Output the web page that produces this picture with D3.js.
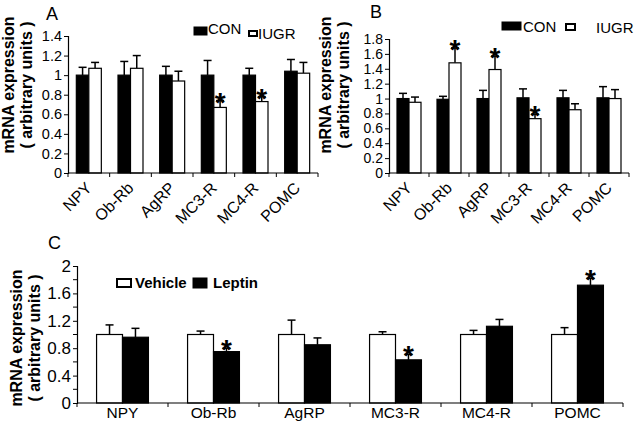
<!DOCTYPE html>
<html>
<head>
<meta charset="utf-8">
<script src="https://cdn.jsdelivr.net/npm/d3@7"></script>
<style>
  body { margin: 0; background: #fff; }
  svg { font-family: Arial, "Liberation Sans", sans-serif; }
</style>
</head>
<body>
<div id="chart"></div>
<script>
const genes = ["NPY", "Ob-Rb", "AgRP", "MC3-R", "MC4-R", "POMC"];

// panel A: CON vs IUGR
const aCon = [1.0, 1.0, 1.0, 1.0, 1.0, 1.04];
const aConErr = [0.08, 0.14, 0.09, 0.15, 0.07, 0.12];
const aIugr = [1.07, 1.07, 0.94, 0.67, 0.73, 1.02];
const aIugrErr = [0.06, 0.13, 0.10, 0.07, 0.05, 0.11];
const aStar = [false, false, false, true, true, false];

// panel B
const bCon = [1.0, 0.99, 1.0, 1.01, 1.01, 1.01];
const bConErr = [0.07, 0.04, 0.11, 0.12, 0.10, 0.15];
const bIugr = [0.95, 1.48, 1.39, 0.73, 0.85, 1.0];
const bIugrErr = [0.07, 0.20, 0.18, 0.06, 0.08, 0.12];
const bStar = [false, true, true, true, false, false];

// panel C: vehicle vs leptin
const cVeh = [1.0, 1.0, 1.0, 1.0, 1.0, 1.0];
const cVehErr = [0.14, 0.05, 0.21, 0.04, 0.06, 0.10];
const cLep = [0.96, 0.75, 0.85, 0.63, 1.12, 1.72];
const cLepErr = [0.13, 0.05, 0.10, 0.08, 0.10, 0.10];
const cStar = [false, true, false, true, false, true];

const aTicks = [0, 0.2, 0.4, 0.6, 0.8, 1, 1.2, 1.4];
const bTicks = [0, 0.2, 0.4, 0.6, 0.8, 1, 1.2, 1.4, 1.6, 1.8];
const cTicks = [0, 0.4, 0.8, 1.2, 1.6, 2];
const cMinor = [0.2, 0.6, 1.0, 1.4, 1.8];

const svg = d3.select("#chart").append("svg")
    .attr("width", 638)
    .attr("height", 430);

function panel(p) {
    const g = svg.append("g");
    const x = d3.scaleBand().domain(genes).range([p.x0, p.x1]);
    const sub = d3.scaleBand().domain([0, 1])
        .range([x.bandwidth() * p.inner[0], x.bandwidth() * p.inner[1]]);
    const y = d3.scaleLinear().domain([0, p.ymax]).range([p.y0, p.y1]);

    const series = [
        {vals: p.s1, err: p.e1, fill: p.fill[0], star: null},
        {vals: p.s2, err: p.e2, fill: p.fill[1], star: p.star}
    ];

    series.forEach((s, si) => {
        const rows = genes.map((k, i) => ({k, v: s.vals[i], e: s.err[i], st: s.star && s.star[i]}));
        // upper whisker only
        rows.forEach(d => {
            const cx = x(d.k) + sub(si) + sub.bandwidth() / 2;
            const top = y(d.v + d.e);
            g.append("line").attr("x1", cx).attr("x2", cx)
                .attr("y1", y(d.v)).attr("y2", top)
                .attr("stroke", "#000").attr("stroke-width", 1.5);
            g.append("line").attr("x1", cx - 4).attr("x2", cx + 4)
                .attr("y1", top).attr("y2", top)
                .attr("stroke", "#000").attr("stroke-width", 1.5);
            if (d.st) {
                g.append("text").attr("x", cx).attr("y", top + 11)
                    .attr("text-anchor", "middle")
                    .attr("font-size", 28).attr("font-weight", "bold")
                    .text("*");
            }
        });
        g.selectAll(null).data(rows).enter().append("rect")
            .attr("x", d => x(d.k) + sub(si))
            .attr("y", d => y(d.v))
            .attr("width", sub.bandwidth())
            .attr("height", d => p.y0 - y(d.v))
            .attr("fill", s.fill)
            .attr("stroke", "#000")
            .attr("stroke-width", 1.2);
    });

    // y axis
    const ya = g.append("g").attr("transform", `translate(${p.x0},0)`)
        .call(d3.axisLeft(y).tickValues(p.ticks).tickSize(4).tickPadding(2)
            .tickFormat(d => d3.format("~g")(d)));
    ya.select(".domain").attr("stroke-width", 1.2);
    ya.selectAll("text").attr("font-size", p.tickFont).attr("fill", "#000")
        .attr("font-family", "Arial, 'Liberation Sans', sans-serif");
    if (p.minor) {
        g.selectAll(null).data(p.minor).enter().append("line")
            .attr("x1", p.x0 - 4).attr("x2", p.x0)
            .attr("y1", d => y(d)).attr("y2", d => y(d))
            .attr("stroke", "#000");
    }

    // x axis, ticks at band edges
    g.append("line").attr("x1", p.x0).attr("x2", p.x1)
        .attr("y1", p.y0).attr("y2", p.y0)
        .attr("stroke", "#000").attr("stroke-width", 1.2);
    const edges = genes.map(k => x(k)).concat([p.x1]);
    g.selectAll(null).data(edges).enter().append("line")
        .attr("x1", d => d).attr("x2", d => d)
        .attr("y1", p.y0).attr("y2", p.y0 + 4)
        .attr("stroke", "#000");

    if (p.rotate) {
        g.selectAll(null).data(genes).enter().append("text")
            .attr("transform", d => `translate(${x(d) + x.bandwidth() / 2 + 1},${p.y0 + 13}) rotate(-45)`)
            .attr("text-anchor", "end")
            .attr("dominant-baseline", "middle")
            .attr("font-size", 16)
            .text(d => d);
    } else {
        g.selectAll(null).data(genes).enter().append("text")
            .attr("x", d => x(d) + x.bandwidth() / 2)
            .attr("y", p.y0 + 15)
            .attr("text-anchor", "middle")
            .attr("font-size", 15.5)
            .text(d => d);
    }

    // y title, two lines
    g.append("text")
        .attr("transform", `translate(${p.titleX},${p.titleY}) rotate(-90)`)
        .attr("text-anchor", "middle").attr("font-weight", "bold").attr("font-size", 16)
        .text("mRNA expression");
    g.append("text")
        .attr("transform", `translate(${p.titleX + 18},${p.titleY}) rotate(-90)`)
        .attr("text-anchor", "middle").attr("font-weight", "bold").attr("font-size", 16)
        .text("( arbitrary units )");

    g.append("text").attr("x", p.letter[0]).attr("y", p.letter[1])
        .attr("font-size", 18).text(p.letter[2]);
    return g;
}

const gA = panel({x0: 68, x1: 318, y0: 173, y1: 36, ymax: 1.4, ticks: aTicks, tickFont: 14.5,
    s1: aCon, e1: aConErr, s2: aIugr, e2: aIugrErr, star: aStar, fill: ["#000", "#fff"],
    inner: [0.2, 0.8], rotate: true, titleX: 14, titleY: 85, letter: [46, 20, "A"]});

const gB = panel({x0: 389, x1: 629, y0: 173, y1: 39, ymax: 1.8, ticks: bTicks, tickFont: 14,
    s1: bCon, e1: bConErr, s2: bIugr, e2: bIugrErr, star: bStar, fill: ["#000", "#fff"],
    inner: [0.2, 0.8], rotate: true, titleX: 331, titleY: 85, letter: [370, 18, "B"]});

const gC = panel({x0: 77, x1: 623, y0: 403, y1: 266, ymax: 2, ticks: cTicks, tickFont: 17,
    minor: cMinor,
    s1: cVeh, e1: cVehErr, s2: cLep, e2: cLepErr, star: cStar, fill: ["#fff", "#000"],
    inner: [0.215, 0.785], rotate: false, titleX: 22, titleY: 338, letter: [48, 249, "C"]});

// legends
function legendBox(g, x, y, w, h, fill, sw) {
    g.append("rect").attr("x", x).attr("y", y).attr("width", w).attr("height", h)
        .attr("fill", fill).attr("stroke", "#000").attr("stroke-width", sw);
}
legendBox(gA, 194, 27, 13, 8, "#000", 1);
gA.append("text").attr("x", 208).attr("y", 34).attr("font-size", 15).text("CON");
legendBox(gA, 249, 31, 8, 5, "#fff", 2);
gA.append("text").attr("x", 258).attr("y", 39).attr("font-size", 15).text("IUGR");

legendBox(gB, 502, 22, 19, 8, "#000", 1);
gB.append("text").attr("x", 523).attr("y", 32).attr("font-size", 15).text("CON");
legendBox(gB, 566, 24, 9, 6, "#fff", 2);
gB.append("text").attr("x", 596).attr("y", 33).attr("font-size", 15).text("IUGR");

legendBox(gC, 117, 279, 14, 8, "#fff", 2);
gC.append("text").attr("x", 135).attr("y", 288).attr("font-size", 15).attr("font-weight", "bold").text("Vehicle");
legendBox(gC, 193, 278, 14, 10, "#000", 1);
gC.append("text").attr("x", 213).attr("y", 288).attr("font-size", 15).attr("font-weight", "bold").text("Leptin");
</script>
</body>
</html>
